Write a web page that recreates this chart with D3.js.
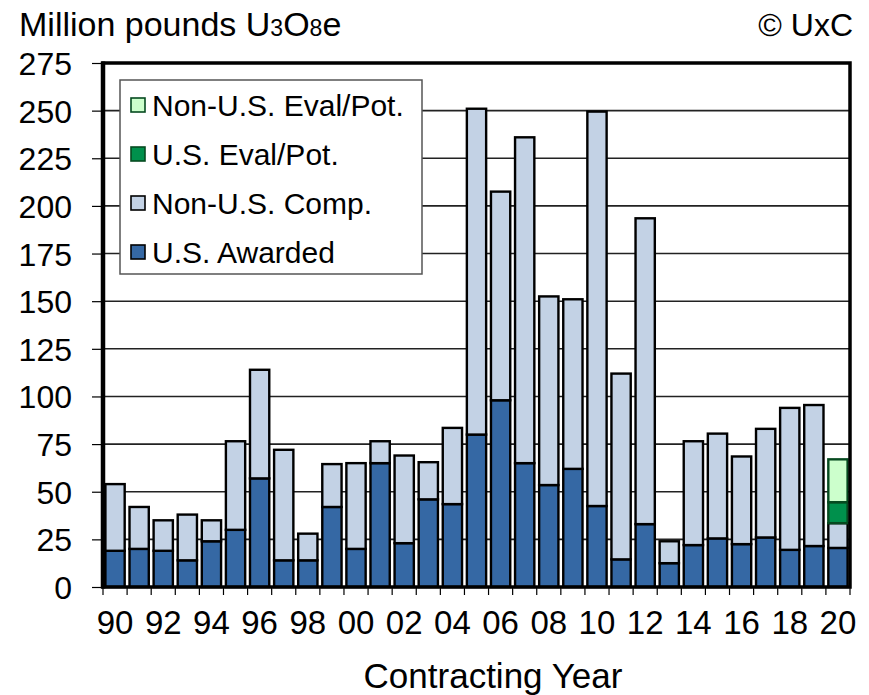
<!DOCTYPE html>
<html><head><meta charset="utf-8">
<script src="https://cdn.jsdelivr.net/npm/d3@7/dist/d3.min.js"></script>
<style>body{margin:0;background:#fff;} svg{display:block;font-family:"Liberation Sans",Arial,sans-serif;}</style>
</head><body><svg id="c" width="869" height="695"></svg>
<script>
const years = d3.range(1990, 2021);
const usAwarded   = [19,20,19,14,24,30,57,14,14,42,20,65,23,46,43.5,80,98,65,53.5,62,42.5,14.5,33,12.5,22,25.5,22.5,26,19.5,21.5,20.5];
const nonUsComp   = [35,22,16,24,11,46.5,57,58,14,22.5,45,11.5,46,19.5,40,171,109.5,171,99,89,207,97.5,160.5,11.5,54.5,55,46,57,74.5,74,13];
const usEvalPot   = years.map(y => y === 2020 ? 11 : 0);
const nonUsEvalPot= years.map(y => y === 2020 ? 22.5 : 0);
const seriesNames = ["U.S. Awarded","Non-U.S. Comp.","U.S. Eval/Pot.","Non-U.S. Eval/Pot."];
const yTicks = d3.range(0, 276, 25);

const fills = ["#3568A4","#C3D2E5","#00904C","#CCFFCC"];
const strokes = ["#000","#000","#064A20","#064A20"];

const svg = d3.select("#c");
const m = {l:103, r:850, t:63, b:587};
const x = d3.scaleBand().domain(years).range([m.l, m.r]).paddingInner(0.2).paddingOuter(0.1);
const y = d3.scaleLinear().domain([0,275]).range([m.b, m.t]);

// gridlines
svg.append("g").selectAll("line").data(yTicks.filter(t=>t>0 && t<275)).join("line")
  .attr("x1", m.l).attr("x2", m.r).attr("y1", d=>y(d)).attr("y2", d=>y(d))
  .attr("stroke","#222").attr("stroke-width",1.6);

// stacked data
const rows = years.map((yr,i)=>({year:yr, s0:usAwarded[i], s1:nonUsComp[i], s2:usEvalPot[i], s3:nonUsEvalPot[i]}));
const stack = d3.stack().keys(["s0","s1","s2","s3"])(rows);
const g = svg.append("g");
stack.forEach((layer, k)=>{
  g.selectAll(null).data(layer.filter(d=>d[1]-d[0]>0)).join("rect")
    .attr("x", d=>x(d.data.year)).attr("width", x.bandwidth())
    .attr("y", d=>y(d[1])).attr("height", d=>y(d[0])-y(d[1]))
    .attr("fill", fills[k]).attr("stroke", strokes[k]).attr("stroke-width", 2.4);
});

// frame
svg.append("rect").attr("x",m.l).attr("y",m.t).attr("width",m.r-m.l).attr("height",m.b-m.t)
  .attr("fill","none").attr("stroke","#000").attr("stroke-width",3.5);
svg.append("line").attr("x1",m.l).attr("x2",m.l).attr("y1",m.t-1.5).attr("y2",m.b+1.5)
  .attr("stroke","#000").attr("stroke-width",4.5);

// y axis
const yAxis = d3.axisLeft(y).tickValues(yTicks).tickSize(11).tickPadding(20).tickFormat(d3.format("d"));
const ya = svg.append("g").attr("transform",`translate(${m.l},0)`).call(yAxis);
ya.select(".domain").remove();
ya.selectAll("line").attr("stroke","#000").attr("stroke-width",1.2);
ya.selectAll("text").attr("font-size",32).attr("fill","#000").attr("font-family","Liberation Sans, Arial, sans-serif").attr("dy","0.36em");

// x axis: tick marks between categories
const step = x.step();
const xb = years.map((yr)=> x(yr) - x.paddingInner()*step/2);
xb.push(m.r);
svg.append("g").selectAll("line").data(xb).join("line")
  .attr("x1",d=>d).attr("x2",d=>d).attr("y1",m.b).attr("y2",m.b+8)
  .attr("stroke","#000").attr("stroke-width",1.2);
const xAxis = d3.axisBottom(x).tickValues(years.filter(yr=>yr%2===0)).tickSize(0).tickPadding(24)
  .tickFormat(d=>String(d%100).padStart(2,"0"));
const xa = svg.append("g").attr("transform",`translate(0,${m.b})`).call(xAxis);
xa.select(".domain").remove();
xa.selectAll("text").attr("font-size",33).attr("fill","#000").attr("font-family","Liberation Sans, Arial, sans-serif");

// legend
const lg = svg.append("g");
lg.append("rect").attr("x",120).attr("y",80).attr("width",302).attr("height",194)
  .attr("fill","#fff").attr("stroke","#555").attr("stroke-width",1.5);
const legOrder = [3,2,1,0];
legOrder.forEach((k,i)=>{
  const cy = 105 + i*49;
  lg.append("rect").attr("x",131).attr("y",cy-7).attr("width",14).attr("height",14)
    .attr("fill",fills[k]).attr("stroke", k>=2 ? "#064A20" : "#000").attr("stroke-width",1.6);
  lg.append("text").attr("x",152).attr("y",cy).attr("dy","0.36em").attr("font-size",30).text(seriesNames[k]);
});

// titles
const t = svg.append("text").attr("x",19).attr("y",36).attr("font-size",34);
t.append("tspan").text("Million pounds U");
t.append("tspan").attr("font-size",23).text("3");
t.append("tspan").text("O");
t.append("tspan").attr("font-size",23).text("8");
t.append("tspan").text("e");
svg.append("text").attr("x",853).attr("y",36).attr("text-anchor","end").attr("font-size",32).text("© UxC");
svg.append("text").attr("x",493).attr("y",688).attr("text-anchor","middle").attr("font-size",35).text("Contracting Year");
</script></body></html>
